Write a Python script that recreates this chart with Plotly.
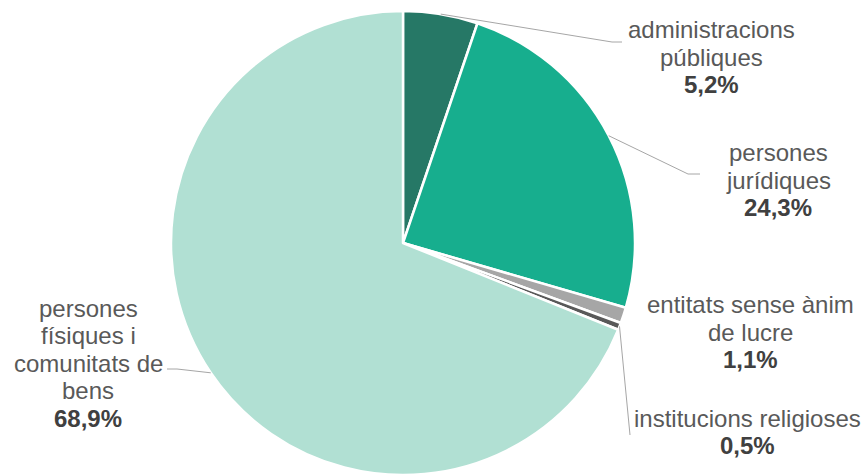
import math
import plotly.graph_objects as go

# Share of owners by type (%)
categories = [
    "administracions<br>públiques",
    "persones<br>jurídiques",
    "entitats sense ànim<br>de lucre",
    "institucions religioses",
    "persones<br>físiques i<br>comunitats de<br>bens",
]
shares = [5.2, 24.3, 1.1, 0.5, 68.9]
colors = ["#267866", "#17AE8E", "#A6A6A6", "#595959", "#B1E0D3"]

W, H = 867, 475
CX, CY, R = 403, 243, 232  # pie centre / radius in pixels
FONT = "Liberation Sans, Arial, sans-serif"
FSIZE = 24
LINE_H = 27.5

# label block centres (px) and leader-line elbows (px), per category
label_pos = [(711, 57), (778, 180), (750, 332), (747, 432), (88, 363)]
leader_path = [
    [(612, 42), (622, 42)],
    [(688, 174), (700, 174)],
    None,
    [(630, 435)],
    [(177, 369), (167, 369)],
]

fig = go.Figure(
    go.Pie(
        labels=[c.replace("<br>", " ") for c in categories],
        values=shares,
        sort=False,
        direction="clockwise",
        rotation=0,
        marker=dict(colors=colors, line=dict(color="white", width=2.5)),
        textinfo="none",
        hoverinfo="label+percent",
        domain=dict(x=[(CX - R) / W, (CX + R) / W], y=[(H - CY - R) / H, (H - CY + R) / H]),
        showlegend=False,
    )
)

def px2paper(x, y):
    return x / W, 1 - y / H

annotations = []
shapes = []
total = sum(shares)
cum = 0.0
for name, v, (lx, ly), path in zip(categories, shares, label_pos, leader_path):
    mid = (cum + v / 2) / total * 2 * math.pi
    cum += v
    pct = f"{v:.1f}".replace(".", ",") + "%"
    lines = [(t, "#595959") for t in name.split("<br>")] + [(f"<b>{pct}</b>", "#404040")]
    n = len(lines)
    for i, (txt, col) in enumerate(lines):
        ax, ay = px2paper(lx, ly + (i - (n - 1) / 2) * LINE_H)
        annotations.append(
            dict(
                x=ax, y=ay, xref="paper", yref="paper",
                text=txt, showarrow=False,
                xanchor="center", yanchor="middle",
                font=dict(family=FONT, size=FSIZE, color=col),
            )
        )
    if path:
        pts = [(CX + R * math.sin(mid), CY - R * math.cos(mid))] + path
        for (x0, y0), (x1, y1) in zip(pts[:-1], pts[1:]):
            p0 = px2paper(x0, y0)
            p1 = px2paper(x1, y1)
            shapes.append(
                dict(type="line", xref="paper", yref="paper",
                     x0=p0[0], y0=p0[1], x1=p1[0], y1=p1[1],
                     line=dict(color="#A6A6A6", width=1))
            )

fig.update_layout(
    width=W, height=H,
    margin=dict(l=0, r=0, t=0, b=0),
    paper_bgcolor="white",
    plot_bgcolor="white",
    annotations=annotations,
    shapes=shapes,
)

fig.write_html("out.html")
